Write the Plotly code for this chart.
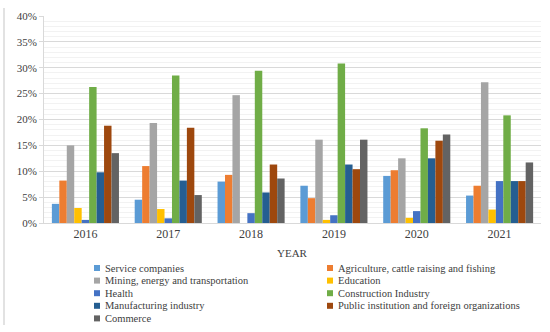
import plotly.graph_objects as go

years = ["2016", "2017", "2018", "2019", "2020", "2021"]
sectors = [
    "Service companies",
    "Agriculture, cattle raising and fishing",
    "Mining, energy and transportation",
    "Education",
    "Health",
    "Construction Industry",
    "Manufacturing industry",
    "Public institution and foreign organizations",
    "Commerce",
]
service = [3.7, 4.5, 8.0, 7.2, 9.1, 5.3]
agriculture = [8.2, 11.0, 9.3, 4.8, 10.2, 7.2]
mining = [15.0, 19.3, 24.7, 16.1, 12.5, 27.2]
education = [2.9, 2.7, 0.0, 0.6, 1.0, 2.6]
health = [0.6, 0.9, 1.9, 1.5, 2.3, 8.1]
construction = [26.3, 28.5, 29.4, 30.8, 18.3, 20.8]
manufacturing = [9.8, 8.2, 5.9, 11.3, 12.5, 8.1]
public = [18.8, 18.4, 11.3, 10.4, 15.9, 8.1]
commerce = [13.5, 5.4, 8.6, 16.1, 17.1, 11.7]
values = [service, agriculture, mining, education, health,
          construction, manufacturing, public, commerce]
colors = ["#5B9BD5", "#ED7D31", "#A5A5A5", "#FFC000", "#4472C4",
          "#70AD47", "#255E91", "#9E480E", "#636363"]
y_ticks = [0, 5, 10, 15, 20, 25, 30, 35, 40]
y_tick_labels = ["0%", "5%", "10%", "15%", "20%", "25%", "30%", "35%", "40%"]

FONT = "Liberation Serif"
fig = go.Figure()
for name, vals, col in zip(sectors, values, colors):
    fig.add_trace(go.Bar(x=years, y=vals, name=name, marker_color=col,
                         marker_line_width=0, showlegend=False))

W, H = 550, 332
ml, mr, mt, mb = 44, 9, 16, 109
pw, ph = W - ml - mr, H - mt - mb

def px_to_paper(x, y):
    return (x - ml) / pw, (H - mb - y) / ph

annotations = []
shapes = []
for i, (name, col) in enumerate(zip(sectors, colors)):
    c, r = i % 2, i // 2
    mx = 94 if c == 0 else 327
    my = 268 + r * 12.6
    x0, y0 = px_to_paper(mx, my + 3)
    x1, y1 = px_to_paper(mx + 6, my - 3)
    shapes.append(dict(type="rect", xref="paper", yref="paper", x0=x0, y0=y0,
                       x1=x1, y1=y1, fillcolor=col, line_width=0))
    tx, ty = px_to_paper(mx + 9, my)
    annotations.append(dict(text=name, xref="paper", yref="paper", x=tx, y=ty,
                            xanchor="left", yanchor="middle", showarrow=False,
                            font=dict(family=FONT, size=10.5, color="#404040")))

yx, yy = px_to_paper(292.5, 253)
annotations.append(dict(text="YEAR", xref="paper", yref="paper", x=yx, y=yy,
                        xanchor="center", yanchor="middle", showarrow=False,
                        font=dict(family=FONT, size=11, color="#404040")))

fx0, fy0 = px_to_paper(4, 325)
fx1, fy1 = px_to_paper(4, 8)
shapes.append(dict(type="line", xref="paper", yref="paper", x0=fx0, x1=fx1,
                   y0=fy0, y1=fy1, line=dict(color="#D9D9D9", width=1.5)))

fig.update_layout(
    width=W, height=H,
    margin=dict(l=ml, r=mr, t=mt, b=mb),
    paper_bgcolor="white", plot_bgcolor="white",
    barmode="group", bargap=0.19, bargroupgap=0,
    font=dict(family=FONT, size=11, color="#404040"),
    annotations=annotations, shapes=shapes,
    xaxis=dict(showline=True, linecolor="#D9D9D9", linewidth=1,
               tickfont=dict(family=FONT, size=12, color="#404040"),
               ticks="", showgrid=False),
    yaxis=dict(range=[0, 40], tickvals=y_ticks, ticktext=y_tick_labels,
               showgrid=True, gridcolor="#D9D9D9", gridwidth=1,
               ticks="outside", ticklen=4, tickcolor="#D9D9D9",
               showline=True, linecolor="#D9D9D9", linewidth=1,
               zeroline=False,
               tickfont=dict(family=FONT, size=11, color="#404040"),
               minor=dict(dtick=1, showgrid=True, gridcolor="#F2F2F2")),
)
fig.write_html("out.html", config={"displayModeBar": False},
               post_script="document.body.style.margin='0';")
